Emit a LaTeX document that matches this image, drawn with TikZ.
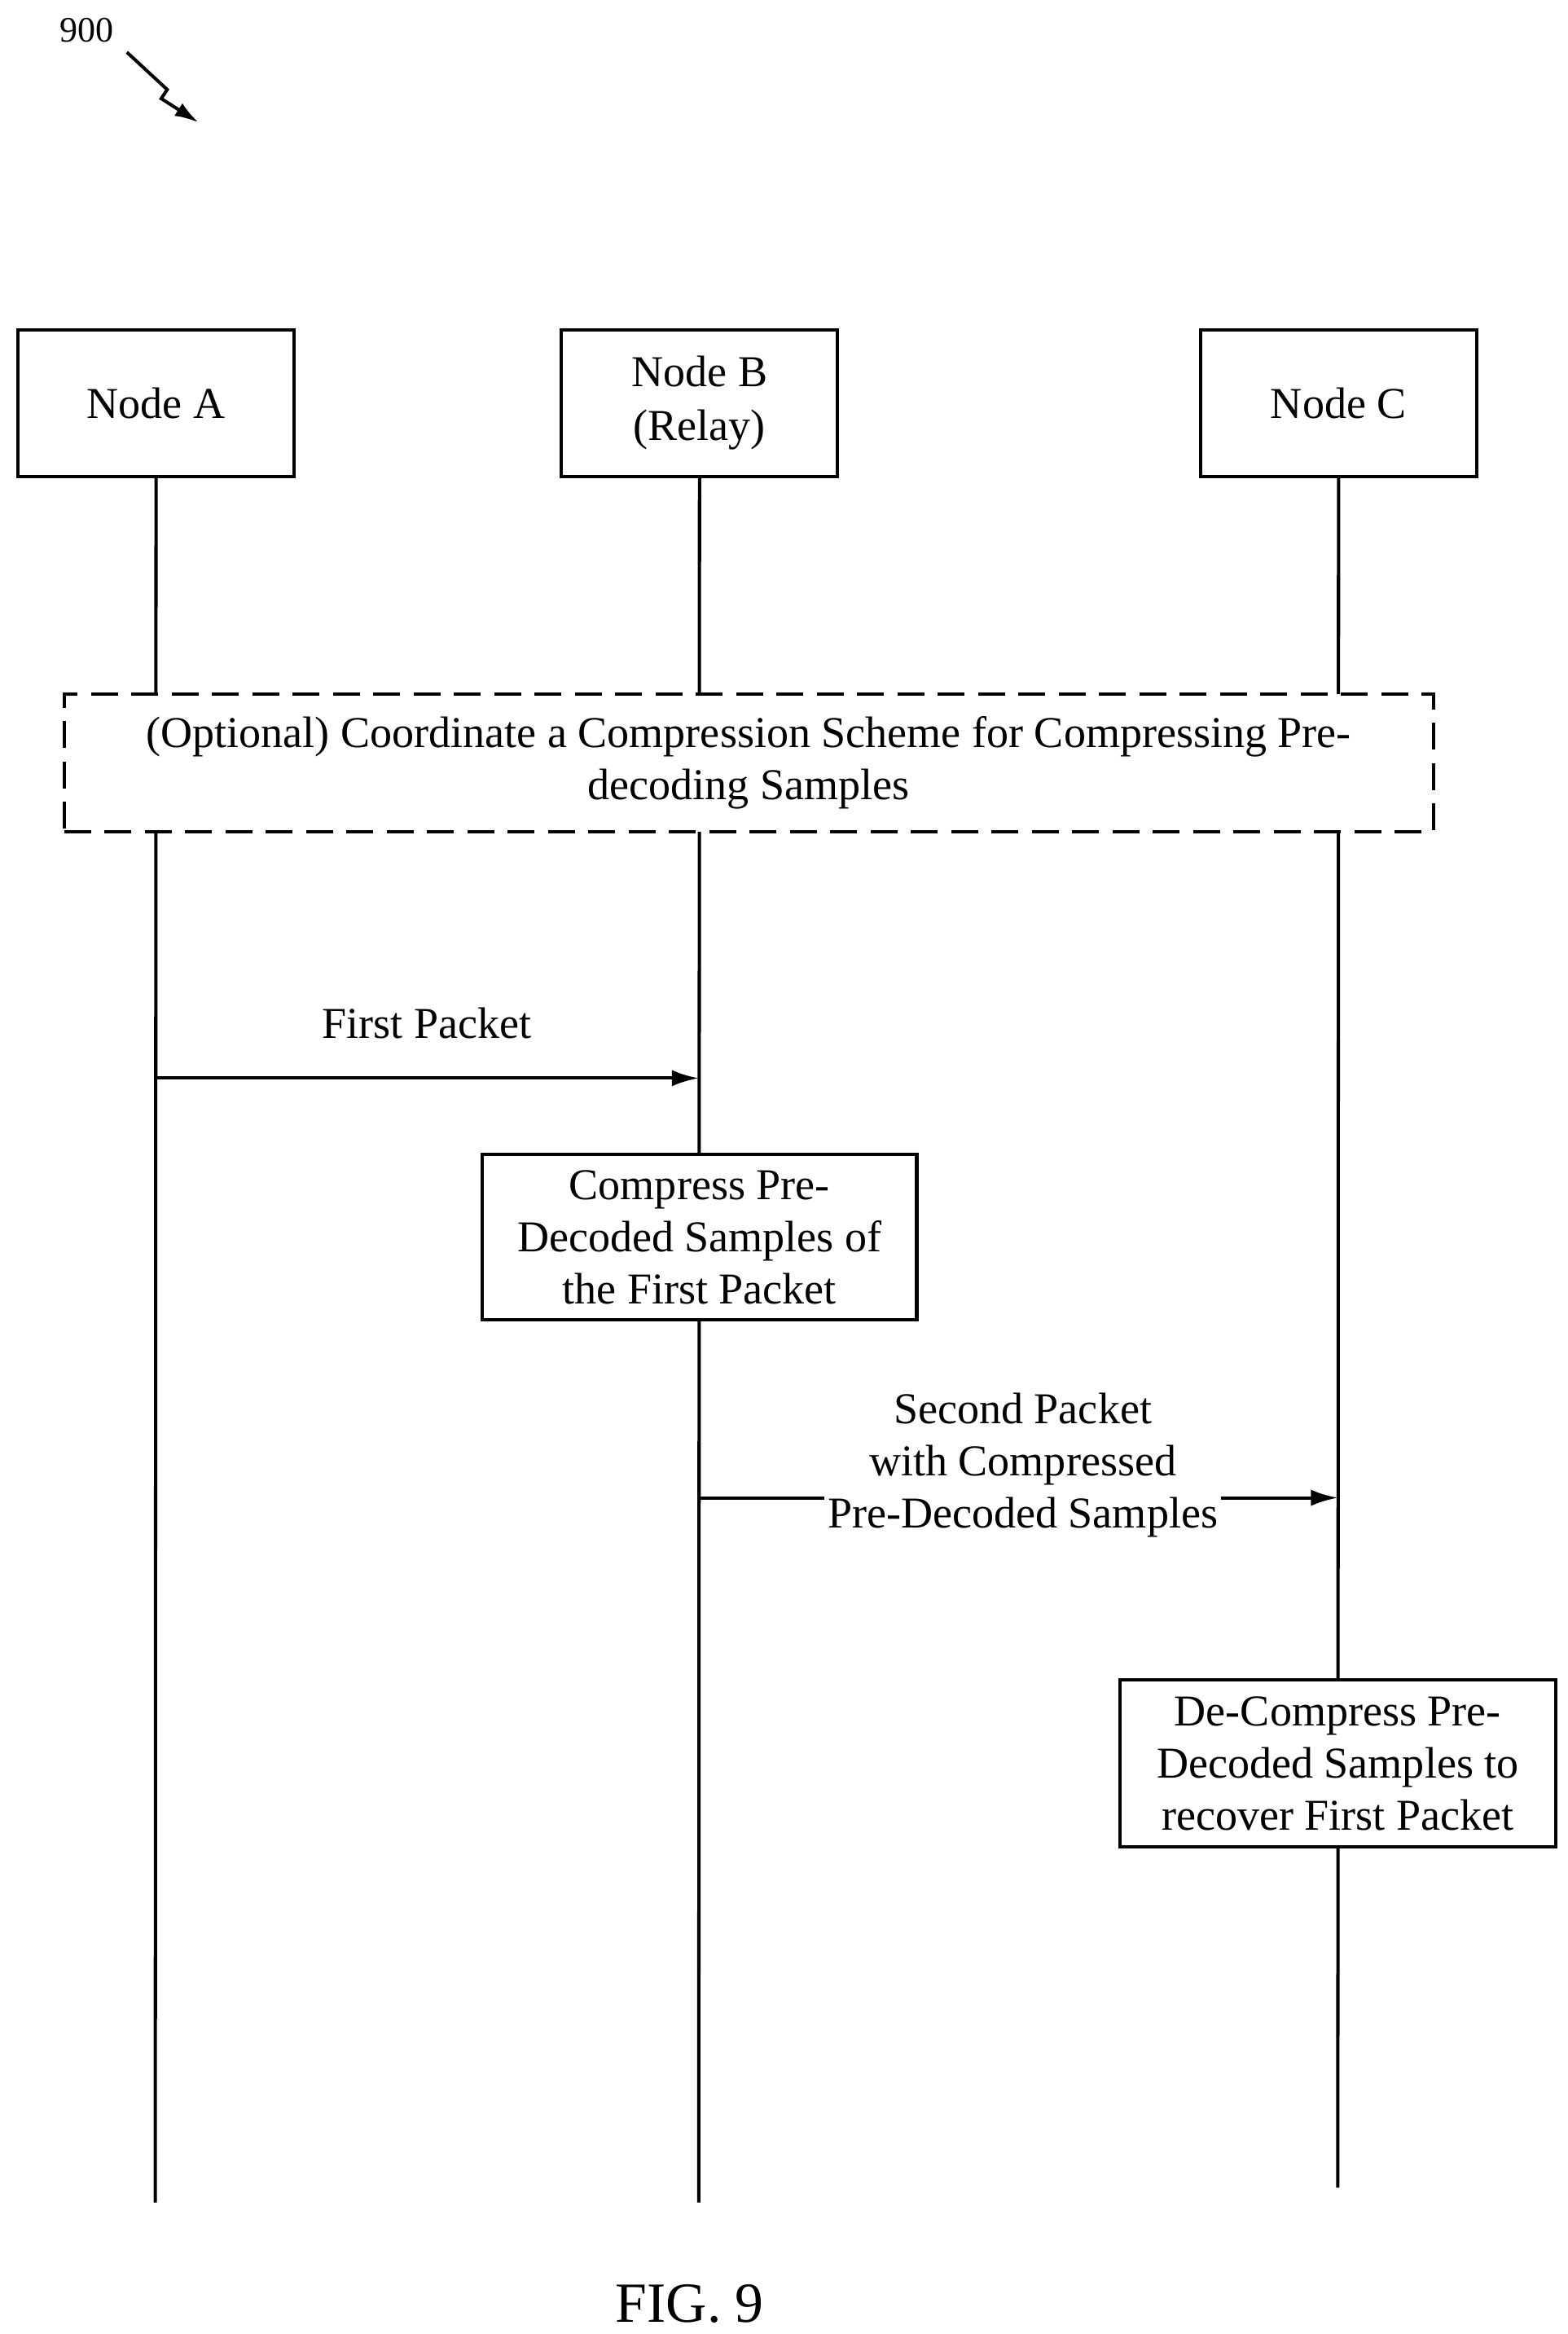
\documentclass[tikz,border=0pt]{standalone}
\usepackage{fontspec}
\setmainfont{Liberation Serif}
\usetikzlibrary{arrows.meta}
\tikzset{
  entity/.style={draw,line width=2.2pt,fill=white,minimum width=185pt,minimum height=98pt,align=center,font=\fontsize{29.5}{36}\selectfont},
  action/.style={draw,line width=2.2pt,fill=white,align=center,inner sep=0pt,font=\fontsize{29.5}{35}\selectfont},
  msg/.style={line width=2.2pt,-{Latex[length=18pt,width=11pt]}},
  life/.style={line width=2.2pt}
}
\begin{document}
\begin{tikzpicture}[x=1pt,y=-1pt]
\useasboundingbox (0,0) rectangle (1050,1563);
  \coordinate (Aend) at (104,1475);
  \coordinate (Bend) at (468,1475);
  \coordinate (Cend) at (896,1465);
  \node[entity] (A) at (104.5,270) {Node A};
  \node[entity] (B) at (468.5,270) {Node B\\(Relay)};
  \node[entity] (C) at (896.5,270) {Node C};
  \draw[life] (A.south) -- (Aend);
  \draw[life] (B.south) -- (Bend);
  \draw[life] (C.south) -- (Cend);
  \node[action,dashed,dash pattern=on 18pt off 9pt,minimum width=917pt,minimum height=92pt] (coord) at (501.5,511)
    {(Optional) Coordinate a Compression Scheme for Compressing Pre-\\decoding Samples};
  \coordinate (m1a) at (104,722);
  \coordinate (m1b) at (468,722);
  \draw[msg] (m1a) -- (m1b) node[midway,above=22pt,font=\fontsize{29.5}{35}\selectfont] (l1) {First Packet};
  \node[action,minimum width=291pt,minimum height=111pt] (comp) at (468.5,828.5)
    {Compress Pre-\\Decoded Samples of\\the First Packet};
  \coordinate (m2a) at (468,1003);
  \coordinate (m2b) at (896,1003);
  \draw[msg] (m2a) -- (m2b);
  \node[fill=white,align=center,inner sep=2pt,font=\fontsize{29.5}{35}\selectfont] (l2) at (685,981)
    {Second Packet\\with Compressed\\Pre-Decoded Samples};
  \node[action,minimum width=292pt,minimum height=112pt] (decomp) at (896,1181)
    {De-Compress Pre-\\Decoded Samples to\\recover First Packet};
  \node[font=\fontsize{38}{42}\selectfont] (fig) at (462,1543) {FIG. 9};
  \node[font=\fontsize{24}{28}\selectfont] (num) at (58,20) {900};
  \coordinate (z1) at (85,35);
  \coordinate (z2) at (112,60);
  \coordinate (z3) at (108,66);
  \coordinate (z4) at (133,82);
  \draw[line width=2.2pt,-{Latex[length=16pt,width=10pt]}] (z1) -- (z2) -- (z3) -- (z4);
\end{tikzpicture}
\end{document}
